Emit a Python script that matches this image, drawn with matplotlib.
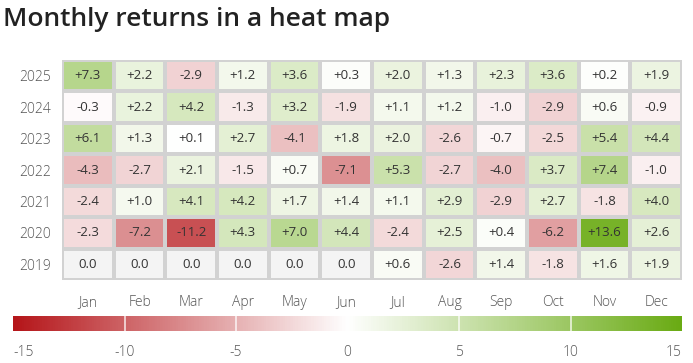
import numpy as np
import matplotlib.pyplot as plt
from matplotlib.colors import LinearSegmentedColormap, Normalize

plt.rcParams['font.family'] = ['Open Sans', 'DejaVu Sans']

years = ['2025', '2024', '2023', '2022', '2021', '2020', '2019']
months = ['Jan', 'Feb', 'Mar', 'Apr', 'May', 'Jun',
          'Jul', 'Aug', 'Sep', 'Oct', 'Nov', 'Dec']
r2025 = [7.3, 2.2, -2.9, 1.2, 3.6, 0.3, 2.0, 1.3, 2.3, 3.6, 0.2, 1.9]
r2024 = [-0.3, 2.2, 4.2, -1.3, 3.2, -1.9, 1.1, 1.2, -1.0, -2.9, 0.6, -0.9]
r2023 = [6.1, 1.3, 0.1, 2.7, -4.1, 1.8, 2.0, -2.6, -0.7, -2.5, 5.4, 4.4]
r2022 = [-4.3, -2.7, 2.1, -1.5, 0.7, -7.1, 5.3, -2.7, -4.0, 3.7, 7.4, -1.0]
r2021 = [-2.4, 1.0, 4.1, 4.2, 1.7, 1.4, 1.1, 2.9, -2.9, 2.7, -1.8, 4.0]
r2020 = [-2.3, -7.2, -11.2, 4.3, 7.0, 4.4, -2.4, 2.5, 0.4, -6.2, 13.6, 2.6]
r2019 = [0.0, 0.0, 0.0, 0.0, 0.0, 0.0, 0.6, -2.6, 1.4, -1.8, 1.6, 1.9]
cbar_ticks = [-15, -10, -5, 0, 5, 10, 15]

data = np.array([r2025, r2024, r2023, r2022, r2021, r2020, r2019])

cmap = LinearSegmentedColormap.from_list(
    'rg', [(0.0, '#b5161a'), (0.5, '#ffffff'), (1.0, '#6aab14')])
cmap.set_bad('#f4f4f4')
norm = Normalize(-15, 15)

fig = plt.figure(figsize=(6.93, 3.63), dpi=100)
W, H = 693, 363

fig.text(3 / W, 1 - 19 / H, 'Monthly returns in a heat map', fontsize=19,
         fontweight='semibold', color='#222222', va='center', ha='left')

ax = fig.add_axes([62 / W, 1 - 280 / H, (682 - 62) / W, 220 / H])
masked = np.ma.masked_where(data == 0, data)
ax.pcolormesh(masked, cmap=cmap, norm=norm, edgecolors='#d2d2d2', linewidth=1.6)
ax.set_xlim(0, 12)
ax.set_ylim(len(years), 0)
for i in range(len(years)):
    for j in range(12):
        v = data[i, j]
        s = '0.0' if v == 0 else f'{v:+.1f}'
        ax.text(j + 0.5, i + 0.5, s, ha='center', va='center',
                fontsize=9.5, color='#333333')
ax.set_xticks(np.arange(12) + 0.5)
ax.set_xticklabels(months, fontweight='light')
ax.set_yticks(np.arange(len(years)) + 0.5)
ax.set_yticklabels(years, fontweight='light')
ax.tick_params(length=0, labelsize=10, labelcolor='#555555')
ax.tick_params(axis='x', pad=11)
ax.tick_params(axis='y', pad=8)
for s in ax.spines.values():
    s.set_visible(False)

cax = fig.add_axes([13 / W, 1 - 331 / H, (682 - 13) / W, 15 / H])
grad = np.linspace(-15, 15, 600).reshape(1, -1)
cax.imshow(grad, cmap=cmap, norm=norm, aspect='auto',
           extent=[-15, 15, 0, 1])
for t in cbar_ticks[1:-1]:
    cax.axvline(t, color='white', lw=1.2, alpha=0.8)
cax.set_xlim(-15, 15)
cax.set_yticks([])
cax.set_xticks(cbar_ticks)
cax.set_xticklabels([str(t) for t in cbar_ticks], fontweight='light')
cax.tick_params(length=0, labelsize=10, labelcolor='#555555', pad=10)
labs = cax.get_xticklabels()
labs[0].set_ha('left')
labs[-1].set_ha('right')
for s in cax.spines.values():
    s.set_visible(False)

fig.savefig('out.png', dpi=100)
